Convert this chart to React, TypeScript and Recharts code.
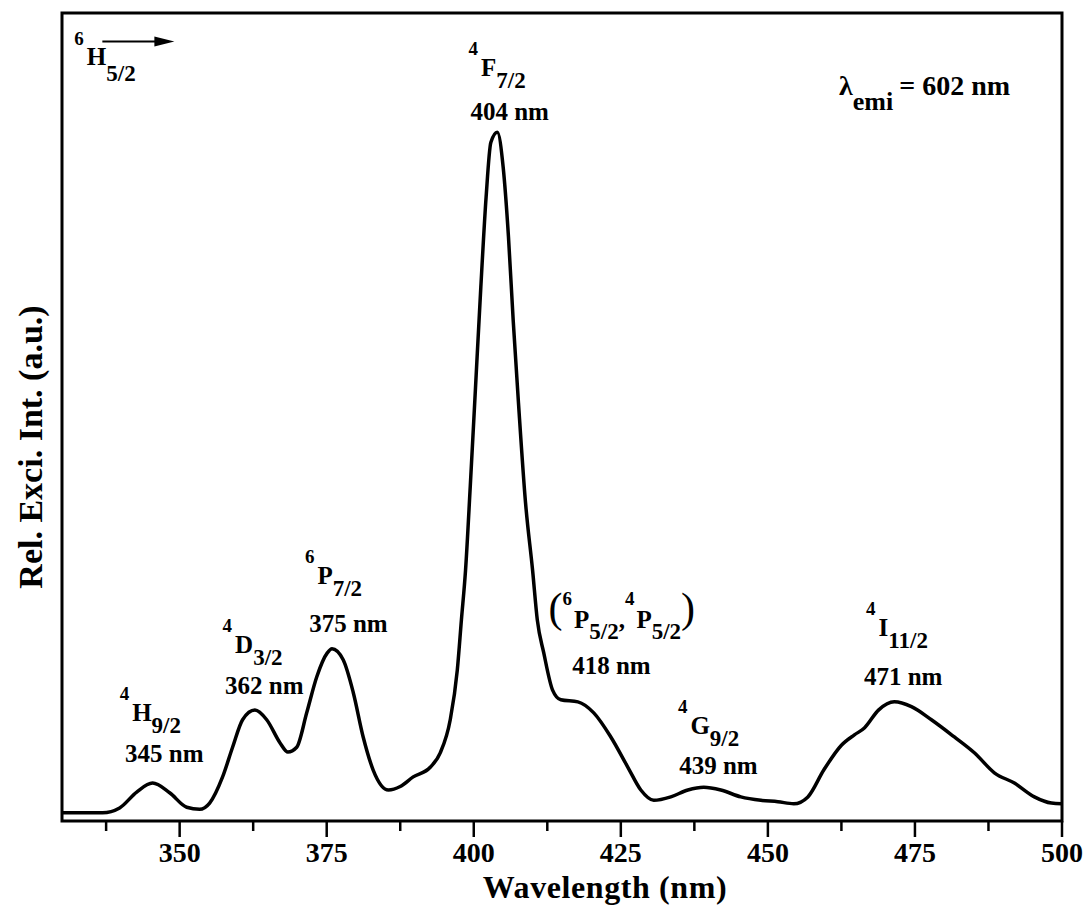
import React from 'react';
import { LineChart, Line, XAxis, YAxis, ReferenceArea, ReferenceDot } from 'recharts';

const FONT = '"Liberation Serif", "Times New Roman", Times, serif';

// excitation spectrum, lambda_emi = 602 nm
const wavelength = [
  330.0, 336.9, 339.8, 342.7, 345.4, 348.3, 351.2, 353.4, 355.1, 357.3,
  359.0, 360.7, 362.8, 364.8, 367.1, 368.4, 369.9, 371.6, 373.3, 375.1,
  375.9, 377.8, 379.5, 381.2, 382.9, 385.5, 387.5, 389.7, 392.6, 394.3,
  396.0, 397.2, 397.9, 398.6, 399.4, 400.3, 401.2, 402.1, 402.9, 404.0,
  405.0, 405.9, 406.7, 407.6, 408.8, 410.0, 410.8, 411.9, 413.4, 414.8,
  417.7, 420.4, 423.3, 426.2, 428.4, 430.6, 433.5, 436.4, 439.1, 442.0,
  445.4, 448.8, 451.7, 454.4, 456.8, 459.5, 462.5, 464.7, 466.4, 468.8,
  471.5, 474.4, 477.8, 481.7, 485.1, 488.5, 491.9, 495.3, 498.2, 500.0,
];
const intensity = [
  1.2, 1.2, 1.9, 4.2, 5.5, 4.1, 2.0, 1.7, 2.6, 6.4,
  10.7, 14.7, 16.1, 14.7, 11.3, 10.0, 10.7, 15.7, 20.9, 24.4,
  25.0, 23.4, 18.7, 12.2, 7.4, 4.5, 5.0, 6.4, 7.8, 9.9,
  14.7, 21.9, 29.2, 36.4, 48.5, 63.0, 77.5, 90.6, 98.5, 100,
  94.9, 84.8, 72.7, 60.7, 46.2, 36.4, 29.2, 24.4, 19.0, 17.6,
  17.3, 15.7, 12.2, 7.8, 4.5, 3.0, 3.5, 4.5, 4.9, 4.5,
  3.5, 3.0, 2.8, 2.5, 3.5, 7.4, 11.0, 12.5, 13.5, 16.1,
  17.3, 16.6, 14.7, 12.2, 9.9, 7.0, 5.5, 3.5, 2.6, 2.5,
];

const majorTicks = [350, 375, 400, 425, 450, 475, 500];
const minorTicks = [337.5, 362.5, 387.5, 412.5, 437.5, 462.5, 487.5];
const yMax = 117.3;

// term symbols: anchor = left / baseline of the superscript, in data units
const terms = [
  { sup: '4', letter: 'H', sub: '9/2', wl: 339.8, at: 17.6 },
  { sup: '4', letter: 'D', sub: '3/2', wl: 357.3, at: 27.4 },
  { sup: '6', letter: 'P', sub: '7/2', wl: 371.3, at: 37.4 },
  { sup: '4', letter: 'F', sub: '7/2', wl: 399.1, at: 111.2 },
  { sup: '4', letter: 'G', sub: '9/2', wl: 434.7, at: 15.7 },
  { sup: '4', letter: 'I', sub: '11/2', wl: 466.7, at: 29.9 },
];
// peak positions: centre / baseline
const peakLabels = [
  { text: '345 nm', wl: 347.4, at: 8.5 },
  { text: '362 nm', wl: 364.4, at: 18.5 },
  { text: '375 nm', wl: 378.7, at: 27.5 },
  { text: '404 nm', wl: 406.1, at: 101.7 },
  { text: '418 nm', wl: 423.4, at: 21.4 },
  { text: '439 nm', wl: 441.6, at: 6.8 },
  { text: '471 nm', wl: 473.0, at: 19.8 },
];

const data = wavelength.map((wl, i) => ({ wl, y: intensity[i] }));

function WaveTick(props: any) {
  const { x, y, payload } = props;
  const v = payload.value;
  const major = majorTicks.includes(v);
  return (
    <g>
      <line x1={x} x2={x} y1={y} y2={y + (major ? 16 : 10)} stroke="#000" strokeWidth={2.5} />
      {major && (
        <text x={x} y={y + 41} textAnchor="middle" fontFamily={FONT} fontWeight="bold" fontSize={28} fill="#000">
          {v}
        </text>
      )}
    </g>
  );
}

function XLabel(props: any) {
  const vb = props.viewBox || { x: 62, y: 821, width: 1000, height: 85 };
  return (
    <text x={vb.x + vb.width / 2 + 43} y={vb.y + 77} textAnchor="middle"
      fontFamily={FONT} fontWeight="bold" fontSize={32} letterSpacing={0.6} fill="#000">
      Wavelength (nm)
    </text>
  );
}

function YLabel(props: any) {
  const vb = props.viewBox || { x: 0, y: 13, width: 62, height: 808 };
  const x = vb.x + 42;
  const y = vb.y + vb.height / 2 + 30;
  return (
    <text x={x} y={y} transform={`rotate(-90, ${x}, ${y})`} textAnchor="middle"
      fontFamily={FONT} fontWeight="bold" fontSize={34} fill="#000">
      Rel. Exci. Int. (a.u.)
    </text>
  );
}

function Term({ cx, cy, t }: any) {
  return (
    <text x={cx} y={cy} fontFamily={FONT} fontWeight="bold" fill="#000">
      <tspan fontSize={19}>{t.sup}</tspan>
      <tspan fontSize={25} dx={3} dy={21}>{t.letter}</tspan>
      <tspan fontSize={23} dy={12}>{t.sub}</tspan>
    </text>
  );
}

function PeakText({ cx, cy, text }: any) {
  return (
    <text x={cx} y={cy} textAnchor="middle" fontFamily={FONT} fontWeight="bold" fontSize={25} fill="#000">
      {text}
    </text>
  );
}

function PairTerm({ cx, cy }: any) {
  return (
    <text x={cx} y={cy - 6} fontFamily={FONT} fontWeight="bold" fill="#000">
      <tspan fontSize={42} fontWeight="normal">(</tspan>
      <tspan fontSize={19} dy={-17}>6</tspan>
      <tspan fontSize={25} dx={2} dy={23}>P</tspan>
      <tspan fontSize={23} dy={11}>5/2</tspan>
      <tspan fontSize={25} dy={-11}>,</tspan>
      <tspan fontSize={19} dy={-23}>4</tspan>
      <tspan fontSize={25} dx={2} dy={23}>P</tspan>
      <tspan fontSize={23} dy={11}>5/2</tspan>
      <tspan fontSize={42} fontWeight="normal" dy={-17}>)</tspan>
    </text>
  );
}

function GroundState({ cx, cy }: any) {
  return (
    <g>
      <text x={cx} y={cy} fontFamily={FONT} fontWeight="bold" fill="#000">
        <tspan fontSize={19}>6</tspan>
        <tspan fontSize={25} dx={3} dy={20}>H</tspan>
        <tspan fontSize={23} dy={16}>5/2</tspan>
      </text>
      <line x1={cx + 28} x2={cx + 84} y1={cy - 4} y2={cy - 4} stroke="#000" strokeWidth={2} />
      <polygon points={`${cx + 100},${cy - 4} ${cx + 80},${cy - 9} ${cx + 80},${cy + 1}`} fill="#000" />
    </g>
  );
}

function Lambda({ cx, cy }: any) {
  return (
    <text x={cx} y={cy} fontFamily={FONT} fontWeight="bold" fill="#000">
      <tspan fontSize={28}>λ</tspan>
      <tspan fontSize={26} dy={15}>emi</tspan>
      <tspan fontSize={28} dx={6} dy={-15}>= 602 nm</tspan>
    </text>
  );
}

export default function App() {
  return (
    <div style={{ position: 'absolute', left: 0, top: 0, background: '#fff' }}>
      <LineChart width={1087} height={906} data={data}
        margin={{ top: 13, right: 25, left: 0, bottom: 0 }}>
        <XAxis dataKey="wl" type="number" domain={[330, 500]} allowDataOverflow
          ticks={[...minorTicks, ...majorTicks].sort((a, b) => a - b)} interval={0}
          height={85} axisLine={false} tickLine={false} tickSize={0} tickMargin={0}
          tick={<WaveTick />} label={<XLabel />} />
        <YAxis type="number" domain={[0, yMax]} allowDataOverflow width={62}
          tick={false} tickLine={false} axisLine={false} label={<YLabel />} />
        <ReferenceArea x1={330} x2={500} y1={0} y2={yMax} fill="none"
          stroke="#000" strokeWidth={3} ifOverflow="visible" />
        <Line type="monotone" dataKey="y" stroke="#000" strokeWidth={3.5}
          dot={false} activeDot={false} isAnimationActive={false} />
        {terms.map((t, i) => (
          <ReferenceDot key={'t' + i} x={t.wl} y={t.at} r={0} ifOverflow="visible"
            shape={(p: any) => <Term cx={p.cx} cy={p.cy} t={t} />} />
        ))}
        {peakLabels.map((p, i) => (
          <ReferenceDot key={'p' + i} x={p.wl} y={p.at} r={0} ifOverflow="visible"
            shape={(s: any) => <PeakText cx={s.cx} cy={s.cy} text={p.text} />} />
        ))}
        <ReferenceDot x={412.7} y={28.0} r={0} ifOverflow="visible"
          shape={(s: any) => <PairTerm cx={s.cx} cy={s.cy} />} />
        <ReferenceDot x={332.1} y={112.6} r={0} ifOverflow="visible"
          shape={(s: any) => <GroundState cx={s.cx} cy={s.cy} />} />
        <ReferenceDot x={462.1} y={105.4} r={0} ifOverflow="visible"
          shape={(s: any) => <Lambda cx={s.cx} cy={s.cy} />} />
      </LineChart>
    </div>
  );
}
